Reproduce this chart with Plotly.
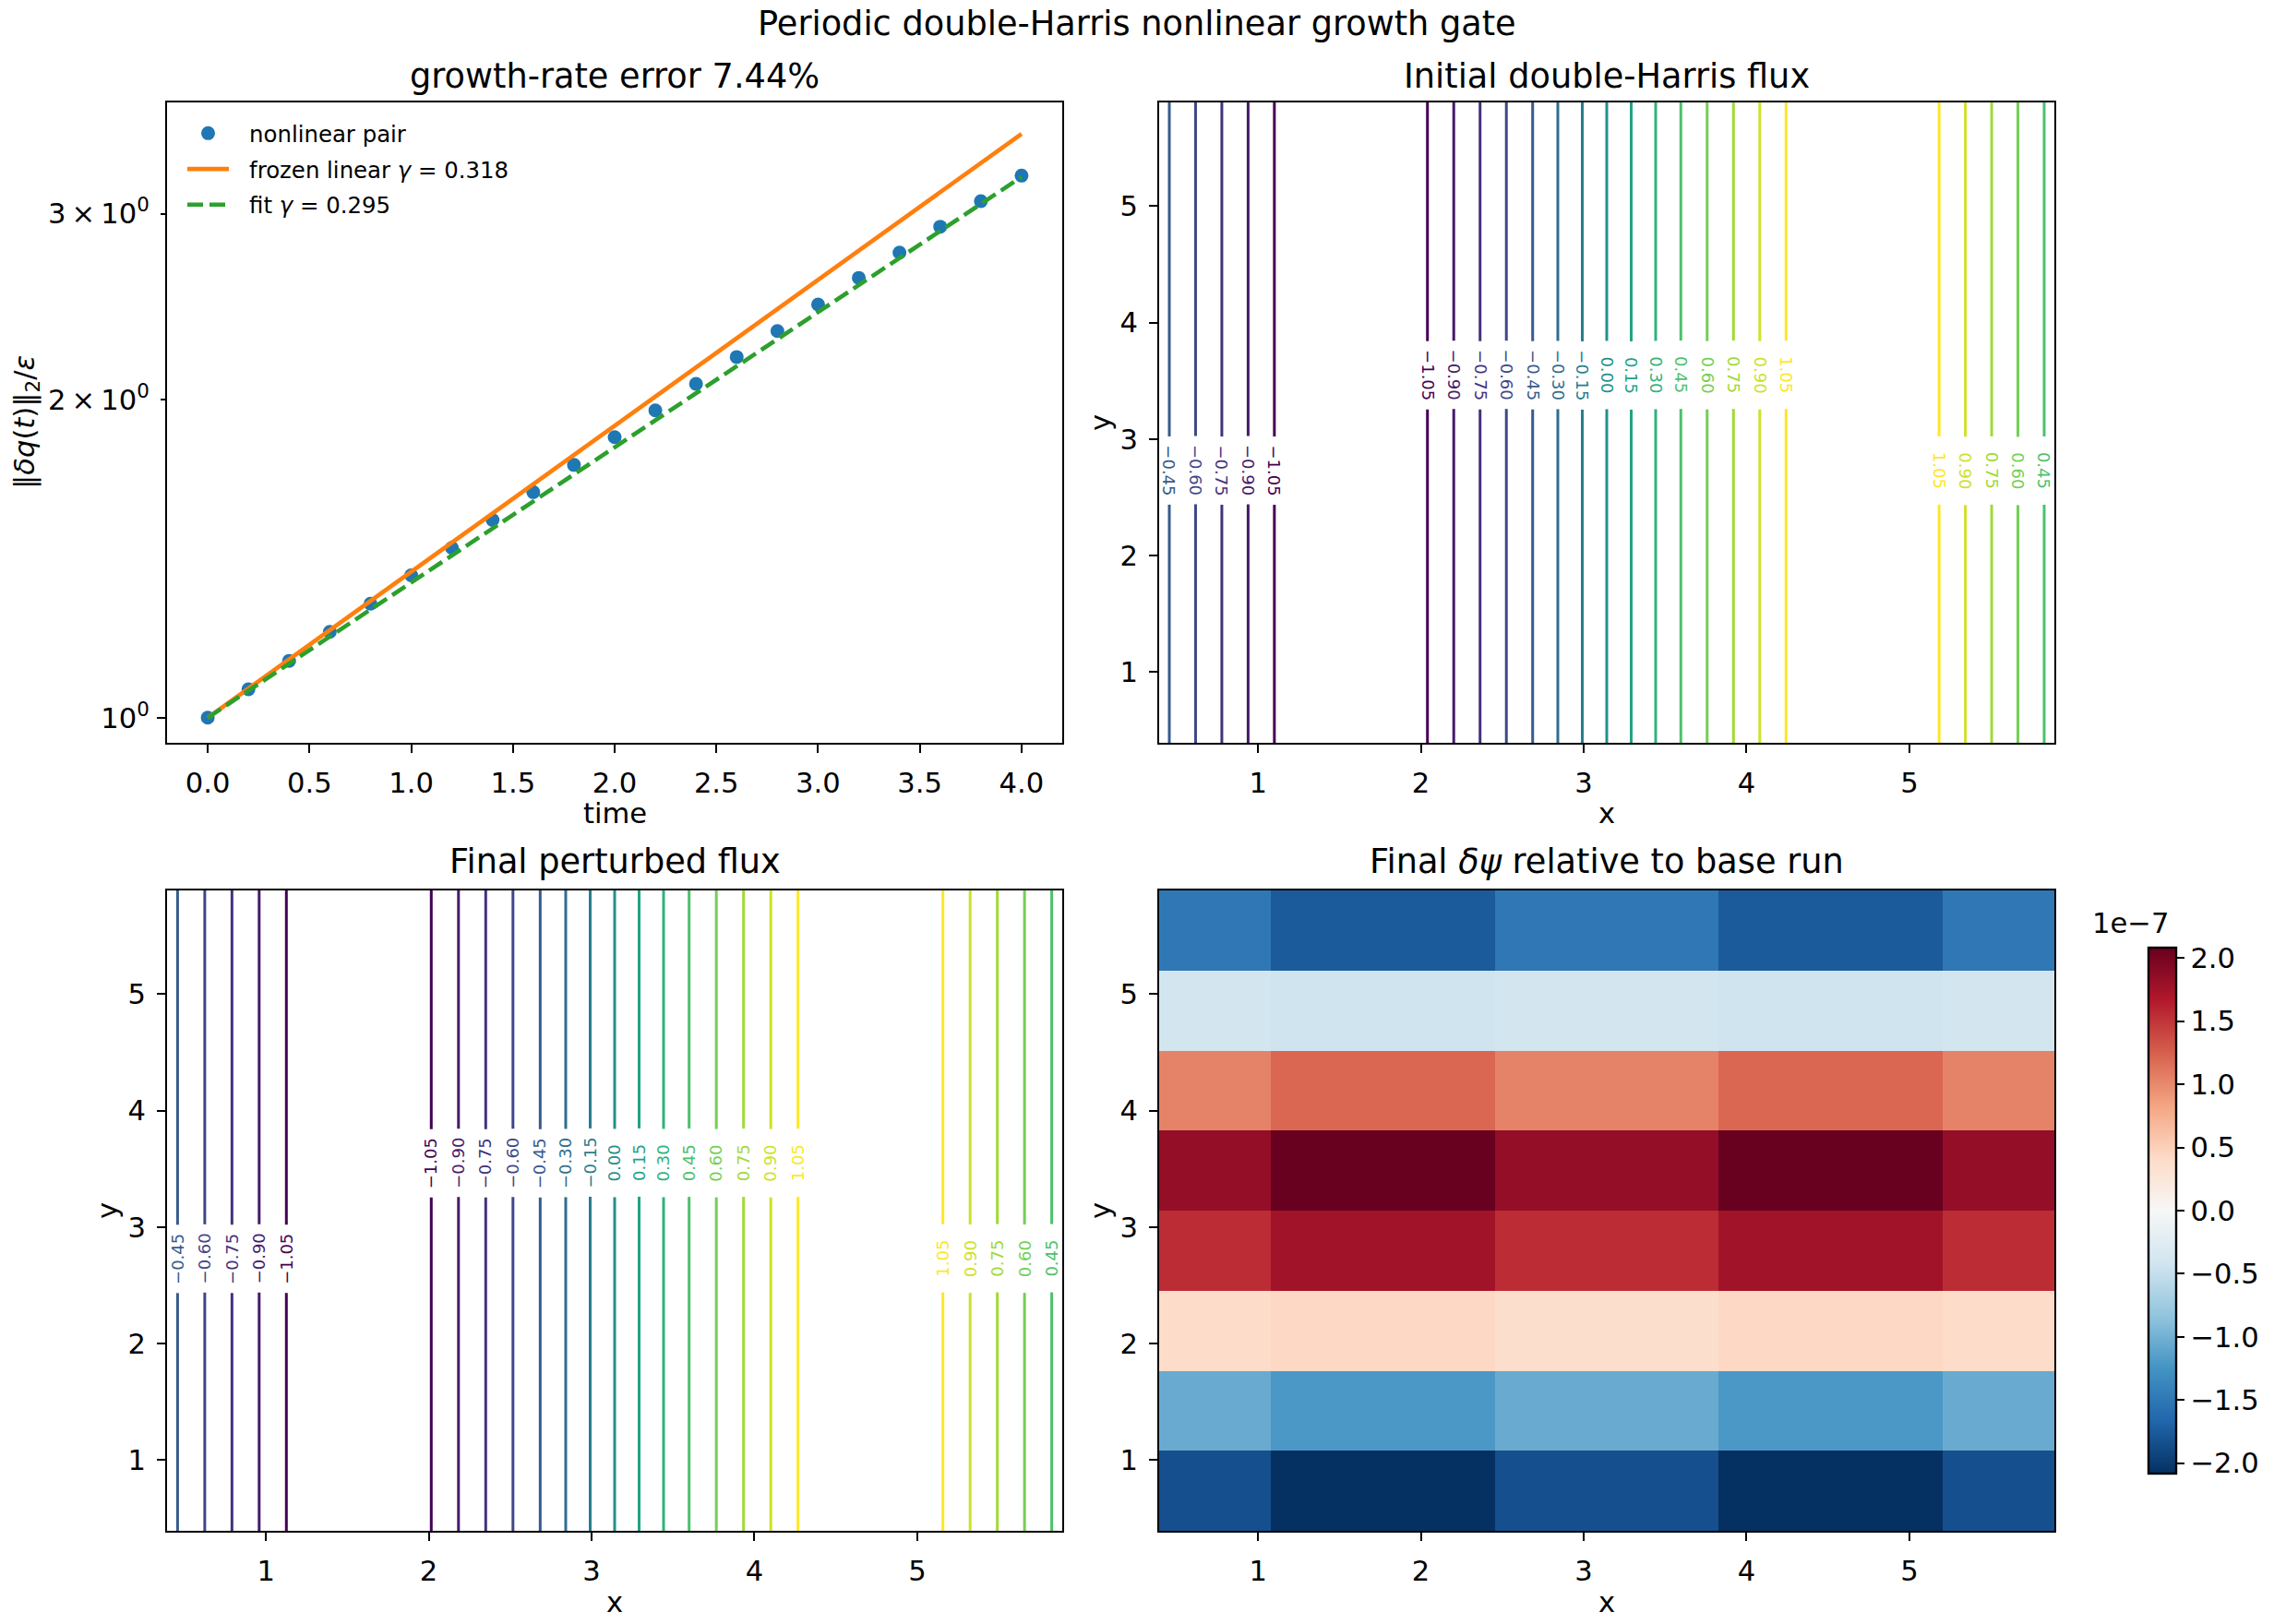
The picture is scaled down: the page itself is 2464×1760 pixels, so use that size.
import numpy as np
import plotly.graph_objects as go
from plotly.colors import sample_colorscale

W, H = 2464, 1760
FONT = "DejaVu Sans"

# ---------------- data ----------------
time = [0.0, 0.2, 0.4, 0.6, 0.8, 1.0, 1.2, 1.4, 1.6, 1.8, 2.0,
        2.2, 2.4, 2.6, 2.8, 3.0, 3.2, 3.4, 3.6, 3.8, 4.0]
nonlinear_pair = [1.000, 1.064, 1.132, 1.206, 1.282, 1.364, 1.448, 1.539, 1.635, 1.735, 1.843,
                  1.954, 2.070, 2.195, 2.323, 2.461, 2.608, 2.756, 2.916, 3.083, 3.259]
frozen_t = [0.0, 4.0]
frozen_linear = [1.0, 3.57]
fit_t = [0.0, 4.0]
fit_line = [1.0, 3.25]

x_grid = [0.393, 1.178, 1.963, 2.749, 3.534, 4.320, 5.105, 5.890]
y_grid = [0.393, 1.178, 1.963, 2.749, 3.534, 4.320, 5.105, 5.890]
psi_initial_x = [-0.392, -1.122, -1.122, -0.392, 0.392, 1.122, 1.122, 0.392]
psi_final_x = [-0.392, -1.097, -1.097, -0.392, 0.392, 1.097, 1.097, 0.392]
level_start, level_end, level_step = -1.05, 1.05, 0.15

# final delta psi relative to base run, in units of 1e-7, rows bottom -> top
delta_psi_1e7 = [
    [-1.84, -2.08, -2.08, -1.84, -1.84, -2.08, -2.08, -1.84],
    [-1.05, -1.21, -1.21, -1.05, -1.05, -1.21, -1.21, -1.05],
    [0.40, 0.43, 0.43, 0.37, 0.37, 0.43, 0.43, 0.40],
    [1.55, 1.76, 1.76, 1.55, 1.55, 1.76, 1.76, 1.55],
    [1.84, 2.08, 2.08, 1.84, 1.84, 2.08, 2.08, 1.84],
    [1.04, 1.21, 1.21, 1.04, 1.04, 1.21, 1.21, 1.04],
    [-0.40, -0.43, -0.43, -0.40, -0.40, -0.43, -0.43, -0.40],
    [-1.50, -1.76, -1.76, -1.50, -1.50, -1.76, -1.76, -1.50],
]
dpsi_scale = 1e-7
dpsi_limit = 2.083
cbar_ticks = [-2.0, -1.5, -1.0, -0.5, 0.0, 0.5, 1.0, 1.5, 2.0]

rdbu_r = ['#053061', '#2166ac', '#4393c3', '#92c5de', '#d1e5f0', '#f7f7f7',
          '#fddbc7', '#f4a582', '#d6604d', '#b2182b', '#67001f']
rdbu_r_scale = [[i / 10, c] for i, c in enumerate(rdbu_r)]

# ---------------- geometry (pixels) ----------------
def px_x(a, b):
    return [a / W, b / W]

def px_y(top, bottom):
    return [1 - bottom / H, 1 - top / H]

dom_left = px_x(181, 1151)
dom_right = px_x(1256, 2226)
dom_top = px_y(111, 805)
dom_bot = px_y(965, 1659)

TICK = 30.6
GAP = '\u2002\u2009'
fig = go.Figure()

# ---- panel 1: growth ----
fig.add_trace(go.Scatter(x=time, y=nonlinear_pair, mode='markers', name=GAP + 'nonlinear pair',
                         legendgroup='a', marker=dict(color='#1f77b4', size=15),
                         xaxis='x', yaxis='y'))
fig.add_trace(go.Scatter(x=frozen_t, y=frozen_linear, mode='lines',
                         name=GAP + 'frozen linear <i>γ</i> = 0.318', legendgroup='b',
                         line=dict(color='#ff7f0e', width=4.6), xaxis='x', yaxis='y'))
fig.add_trace(go.Scatter(x=fit_t, y=fit_line, mode='lines', name=GAP + 'fit <i>γ</i> = 0.295',
                         legendgroup='c',
                         line=dict(color='#2ca02c', width=4.6, dash='17px,7px'),
                         xaxis='x', yaxis='y'))

# ---- panel 2 & 3: contours ----
levels = np.round(np.arange(level_start, level_end + level_step / 2, level_step), 2)
ann = []


def contour_labels(xs, vals, xref, yref, angle):
    """Inline labels at the crossing of each contour level along x."""
    for i in range(len(xs) - 1):
        v0, v1 = vals[i], vals[i + 1]
        for lev in levels:
            if (v0 - lev) * (v1 - lev) < 0:
                cx = xs[i] + (lev - v0) / (v1 - v0) * (xs[i + 1] - xs[i])
                ly = 3.55 if 1.5 < cx < 5.0 else 2.73
                col = sample_colorscale('Viridis', [(lev - level_start) / (level_end - level_start)])[0]
                ann.append(dict(
                    x=cx, y=ly, xref=xref, yref=yref, showarrow=False,
                    text=f"{lev:.2f}".replace('-', '\u2212'), textangle=angle,
                    font=dict(size=18, family=FONT, color=col),
                    bgcolor='white', borderpad=0, borderwidth=0, width=74, height=20,
                    xanchor='center', yanchor='middle'))


for xv, xa, ya, ang in [(psi_initial_x, 'x2', 'y2', 90), (psi_final_x, 'x3', 'y3', -90)]:
    z = np.tile(np.array(xv), (len(y_grid), 1))
    fig.add_trace(go.Contour(
        x=x_grid, y=y_grid, z=z, xaxis=xa, yaxis=ya,
        colorscale='Viridis', showscale=False, autocontour=False,
        contours=dict(coloring='lines', showlabels=False,
                      start=level_start, end=level_end + 0.01, size=level_step),
        line=dict(width=3), hoverinfo='skip'))
    contour_labels(x_grid, xv, xa, ya, ang)

# ---- panel 4: heatmap ----
x_edges = np.linspace(x_grid[0], x_grid[-1], len(x_grid) + 1)
y_edges = np.linspace(y_grid[0], y_grid[-1], len(y_grid) + 1)
fig.add_trace(go.Heatmap(
    x=x_edges, y=y_edges, z=np.array(delta_psi_1e7) * dpsi_scale,
    xaxis='x4', yaxis='y4', colorscale=rdbu_r_scale,
    zmin=-dpsi_limit * dpsi_scale, zmax=dpsi_limit * dpsi_scale, hoverinfo='skip',
    colorbar=dict(x=2328 / W, xanchor='left', xpad=0, ypad=0,
                  y=1 - (1027 + 1597) / 2 / H, yanchor='middle',
                  len=570 / H, lenmode='fraction', thickness=30, thicknessmode='pixels',
                  outlinewidth=2.4, outlinecolor='black',
                  ticks='outside', ticklen=8.6, tickwidth=2.4, tickcolor='black',
                  tickvals=[t * dpsi_scale for t in cbar_ticks],
                  ticktext=[f"{t:.1f}".replace('-', '\u2212') for t in cbar_ticks],
                  tickfont=dict(size=TICK, family=FONT, color='black'))))

# ---------------- axes ----------------
def axis(domain, anchor, rng, tickvals, ticktext=None, **kw):
    d = dict(domain=domain, anchor=anchor, range=rng, showline=True, mirror=True,
             linecolor='black', linewidth=2.4, ticks='outside', ticklen=8.6, tickwidth=2.4,
             tickcolor='black', showgrid=False, zeroline=False, tickvals=tickvals,
             tickfont=dict(size=TICK, family=FONT, color='black'), ticklabelstandoff=6)
    if ticktext is not None:
        d['ticktext'] = ticktext
    d.update(kw)
    return d

grid_ticks = [1, 2, 3, 4, 5]
xr = [x_grid[0], x_grid[-1]]
yr = [y_grid[0], y_grid[-1]]
t_ticks = [0.0, 0.5, 1.0, 1.5, 2.0, 2.5, 3.0, 3.5, 4.0]
TS = '\u2009'

fig.update_layout(
    xaxis=axis(dom_left, 'y', [-0.2, 4.2], t_ticks, [f"{t:.1f}" for t in t_ticks]),
    yaxis=axis(dom_top, 'x', [np.log10(0.9468), np.log10(3.823)], [1, 2, 3],
               ['10<sup>0</sup>', f'2{TS}×{TS}10<sup>0</sup>', f'3{TS}×{TS}10<sup>0</sup>'],
               type='log', ticklen=4.9, tickwidth=1.8,
               minor=dict(tickvals=[1], ticklen=8.6, tickwidth=2.4, tickcolor='black',
                          ticks='outside')),
    xaxis2=axis(dom_right, 'y2', xr, grid_ticks),
    yaxis2=axis(dom_top, 'x2', yr, grid_ticks),
    xaxis3=axis(dom_left, 'y3', xr, grid_ticks),
    yaxis3=axis(dom_bot, 'x3', yr, grid_ticks),
    xaxis4=axis(dom_right, 'y4', xr, grid_ticks),
    yaxis4=axis(dom_bot, 'x4', yr, grid_ticks),
)

# ---------------- text ----------------
def text(s, x, y, size, angle=0, xanchor='center', yanchor='middle'):
    ann.append(dict(text=s, x=x / W, y=1 - y / H, xref='paper', yref='paper',
                    showarrow=False, textangle=angle, xanchor=xanchor, yanchor=yanchor,
                    font=dict(size=size, family=FONT, color='black')))

text('Periodic double-Harris nonlinear growth gate', 1232, 26, 36.7)
text('growth-rate error 7.44%', 666, 82, 36.7)
text('Initial double-Harris flux', 1741, 82, 36.7)
text('Final perturbed flux', 666, 934, 36.7)
text('Final <i>δψ</i> relative to base run', 1741, 934, 36.7)
text('time', 666, 882, 30.6)
text('x', 1741, 882, 30.6)
text('x', 666, 1736, 30.6)
text('x', 1741, 1736, 30.6)
text('‖<i>δq</i>(<i>t</i>)‖<sub>2</sub>/<i>ε</i>', 28, 458, 30.6, angle=-90)
text('y', 1192, 458, 30.6, angle=-90)
text('y', 116, 1312, 30.6, angle=-90)
text('y', 1192, 1312, 30.6, angle=-90)
text('1e\u22127', 2352, 1000, 30.6, xanchor='right')

fig.update_layout(
    width=W, height=H, margin=dict(l=0, r=0, t=0, b=0),
    paper_bgcolor='white', plot_bgcolor='white',
    font=dict(family=FONT, color='black'),
    annotations=ann,
    showlegend=True,
    legend=dict(x=198 / W, y=1 - 122 / H, xanchor='left', yanchor='top',
                bgcolor='rgba(0,0,0,0)', borderwidth=0, itemwidth=45,
                traceorder='grouped', tracegroupgap=4,
                font=dict(size=24.4, family=FONT, color='black')),
)

fig.write_html("out.html")
